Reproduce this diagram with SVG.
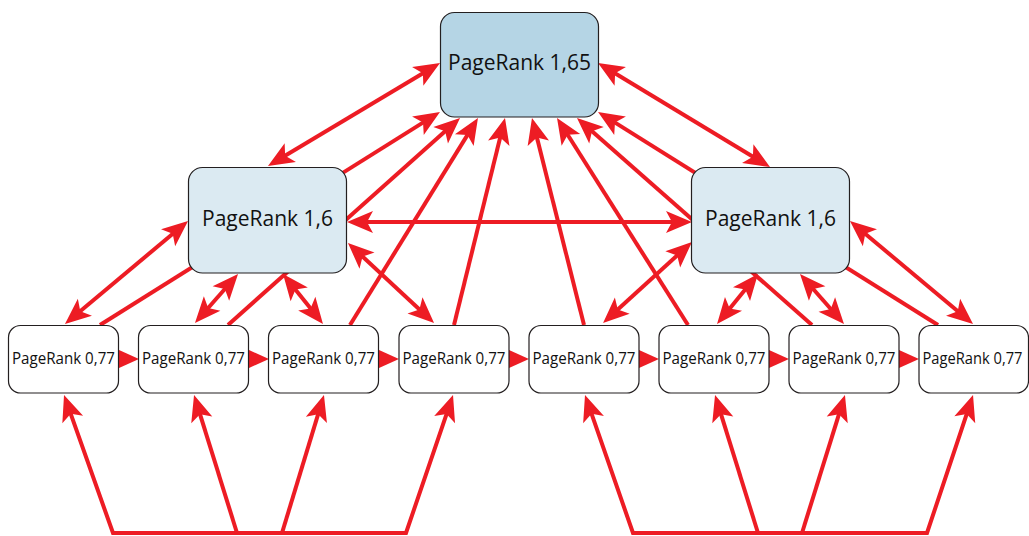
<svg xmlns="http://www.w3.org/2000/svg" width="1029" height="536" viewBox="0 0 1029 536">
<style>
.c{fill:none;stroke:#ed1c24;stroke-width:4;stroke-linejoin:miter}
.d{marker-start:url(#ah);marker-end:url(#ah)}
.s{marker-end:url(#ah)}
.tri{fill:#ed1c24}
.box{stroke:#231f20;stroke-width:1.2}
.top{fill:#b5d5e5}
.mid{fill:#dbeaf2}
.bot{fill:#ffffff}
text{font-family:"Open Sans","Liberation Sans",sans-serif;fill:#111;text-anchor:middle}
.t1{font-size:22.5px}
.t2{font-size:22px}
.t3{font-size:17px}
</style>
<defs>
<marker id="ah" markerUnits="userSpaceOnUse" viewBox="-13 -12 28 24" markerWidth="28" markerHeight="24" refX="0" refY="0" orient="auto-start-reverse">
<path d="M14,0 L-12,-11 L-6,0 L-12,11 Z" fill="#ed1c24"/>
</marker>
</defs>
<g id="connectors">
<path class="c d" d="M280,158.8 L428,70.2"/>
<path class="c d" d="M610,70.2 L758,159.8"/>
<path class="c d" d="M361,222 L678,222"/>
<path class="c d" d="M177.3,230 L75.7,315"/>
<path class="c d" d="M228.8,284.5 L204.2,312.5"/>
<path class="c d" d="M291.75,284.9 L314.25,313.1"/>
<path class="c d" d="M358.2,252.5 L423.8,313.5"/>
<path class="c d" d="M681.6,251.4 L613.4,313.6"/>
<path class="c d" d="M749.1,284.8 L725.9,313.2"/>
<path class="c d" d="M809.25,284.5 L834.75,313.5"/>
<path class="c d" d="M860.7,230 L962.3,315"/>
<path class="c s" d="M100,325 L428.1,119.4"/>
<path class="c s" d="M228,325 L449.6,127.3"/>
<path class="c s" d="M350,325 L470.6,129.9"/>
<path class="c s" d="M454,325 L501.65,131.6"/>
<path class="c s" d="M584,325 L535.4,131.6"/>
<path class="c s" d="M688,325 L564.5,129.8"/>
<path class="c s" d="M812,325 L587.5,127.25"/>
<path class="c s" d="M938,325 L609.9,119.4"/>
<path class="c d" d="M68.7,408.2 L113,533 L406,533 L448.5,408.3"/>
<path class="c s" d="M237,533 L198.2,408.4"/>
<path class="c s" d="M282,533 L319.9,408.4"/>
<path class="c d" d="M589.6,408.2 L633,533 L927,533 L968.6,408.3"/>
<path class="c s" d="M758,533 L719.2,408.4"/>
<path class="c s" d="M802,533 L840.8,408.4"/>
<path class="tri" d="M119,350 L139,359 L119,368 Z"/>
<path class="tri" d="M249,350 L269,359 L249,368 Z"/>
<path class="tri" d="M379,350 L399,359 L379,368 Z"/>
<path class="tri" d="M509,350 L529,359 L509,368 Z"/>
<path class="tri" d="M639,350 L659,359 L639,368 Z"/>
<path class="tri" d="M769,350 L789,359 L769,368 Z"/>
<path class="tri" d="M899,350 L919,359 L899,368 Z"/>
</g>
<g id="node-top"><rect class="box top" x="440.5" y="12.5" width="158" height="104.5" rx="14"/><text class="t1" x="519.5" y="70" textLength="143" lengthAdjust="spacingAndGlyphs">PageRank 1,65</text></g>
<g id="node-mid-left"><rect class="box mid" x="188.5" y="167.5" width="158" height="105.5" rx="14"/><text class="t2" x="267.5" y="226" textLength="131" lengthAdjust="spacingAndGlyphs">PageRank 1,6</text></g>
<g id="node-mid-right"><rect class="box mid" x="691.5" y="167.5" width="158" height="105.5" rx="14"/><text class="t2" x="770.5" y="226" textLength="131" lengthAdjust="spacingAndGlyphs">PageRank 1,6</text></g>
<g id="node-b1"><rect class="box bot" x="8.5" y="325.5" width="110" height="67.5" rx="12"/><text class="t3" x="63.5" y="364" textLength="103" lengthAdjust="spacingAndGlyphs">PageRank 0,77</text></g>
<g id="node-b2"><rect class="box bot" x="138.5" y="325.5" width="110" height="67.5" rx="12"/><text class="t3" x="193.5" y="364" textLength="103" lengthAdjust="spacingAndGlyphs">PageRank 0,77</text></g>
<g id="node-b3"><rect class="box bot" x="268.5" y="325.5" width="110" height="67.5" rx="12"/><text class="t3" x="323.5" y="364" textLength="103" lengthAdjust="spacingAndGlyphs">PageRank 0,77</text></g>
<g id="node-b4"><rect class="box bot" x="399" y="325.5" width="110" height="67.5" rx="12"/><text class="t3" x="454" y="364" textLength="103" lengthAdjust="spacingAndGlyphs">PageRank 0,77</text></g>
<g id="node-b5"><rect class="box bot" x="529" y="325.5" width="110" height="67.5" rx="12"/><text class="t3" x="584" y="364" textLength="103" lengthAdjust="spacingAndGlyphs">PageRank 0,77</text></g>
<g id="node-b6"><rect class="box bot" x="659" y="325.5" width="110" height="67.5" rx="12"/><text class="t3" x="714" y="364" textLength="103" lengthAdjust="spacingAndGlyphs">PageRank 0,77</text></g>
<g id="node-b7"><rect class="box bot" x="789" y="325.5" width="110" height="67.5" rx="12"/><text class="t3" x="844" y="364" textLength="103" lengthAdjust="spacingAndGlyphs">PageRank 0,77</text></g>
<g id="node-b8"><rect class="box bot" x="919" y="325.5" width="109.5" height="67.5" rx="12"/><text class="t3" x="972.5" y="364" textLength="100" lengthAdjust="spacingAndGlyphs">PageRank 0,77</text></g>
</svg>
